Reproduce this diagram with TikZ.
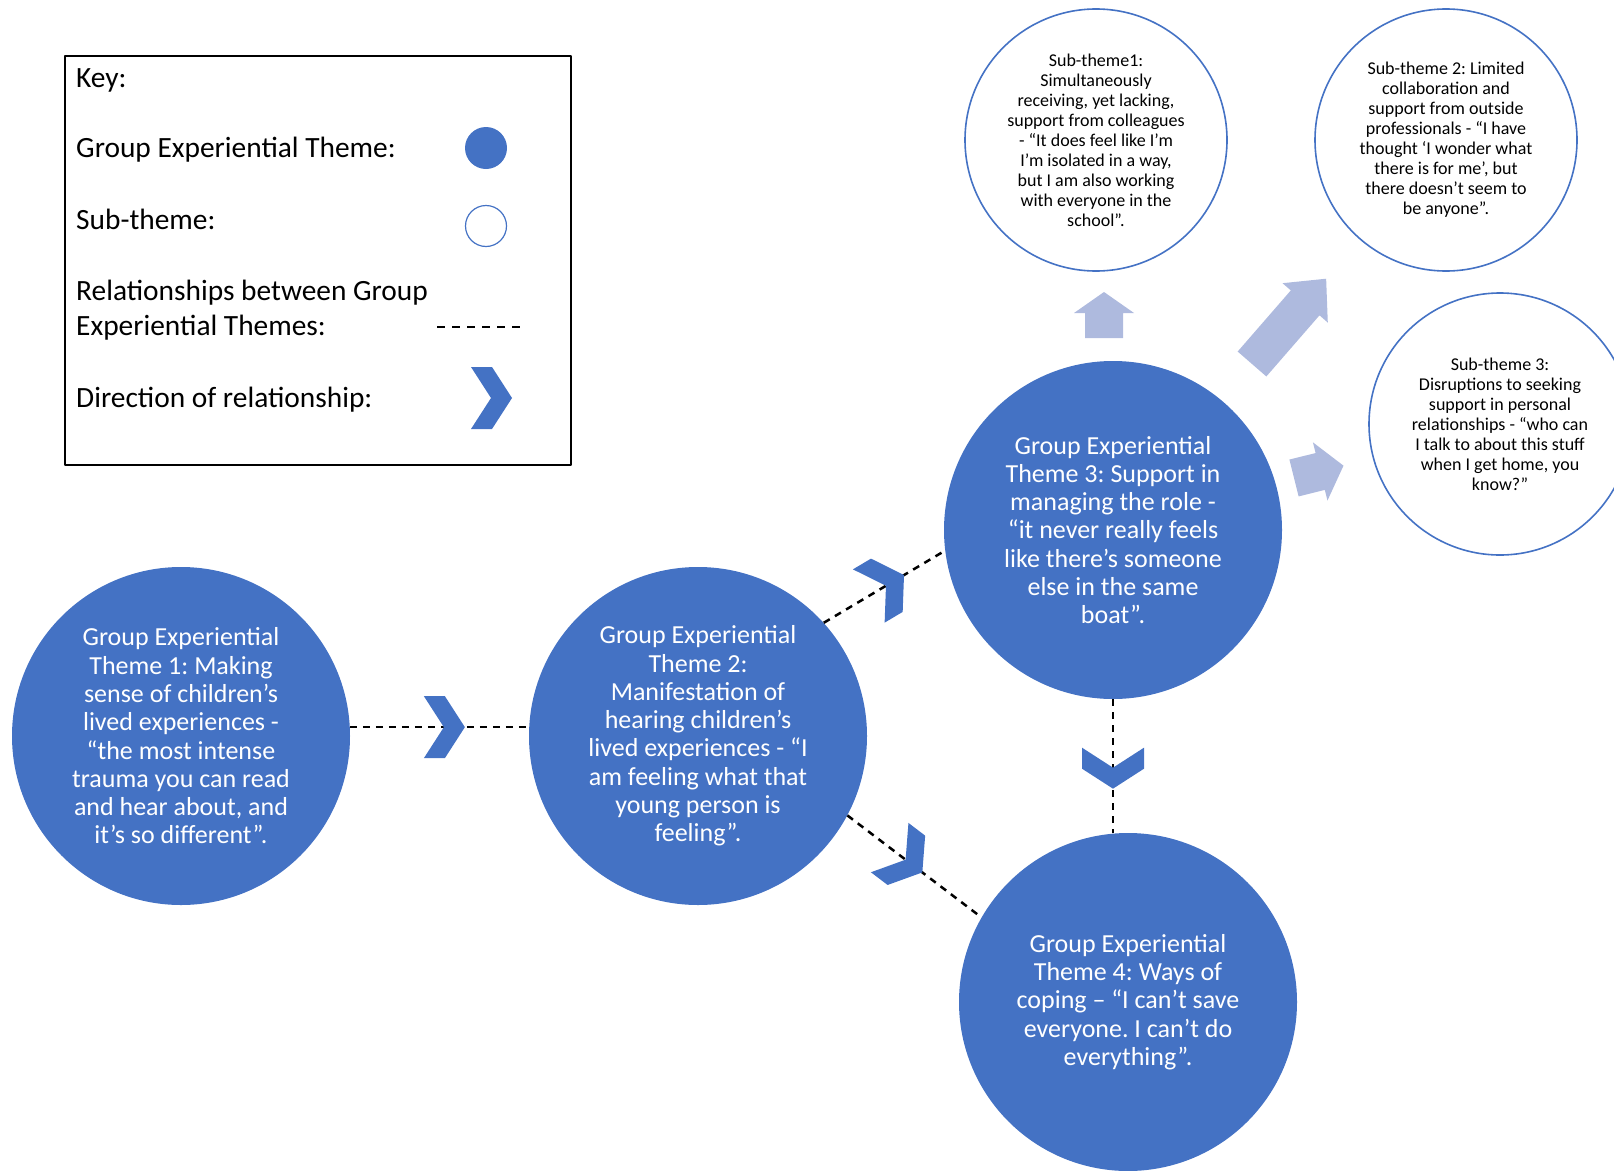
\documentclass[tikz,border=0pt]{standalone}
\usepackage{fontspec}
\setmainfont{Carlito}
\frenchspacing
\usetikzlibrary{decorations.markings}
\definecolor{getblue}{RGB}{68,114,196}
\definecolor{liteblue}{RGB}{174,186,222}
\newcommand\getsize{\fontsize{26}{28.3}\selectfont}
\newcommand\subsize{\fontsize{18}{20}\selectfont}
\newcommand\keysize{\fontsize{29.4}{35}\selectfont}
\tikzset{
  chev/.pic={\fill[getblue] (20,0)--(0,31)--(-21,31)--(-1,0)--(-21,-31)--(0,-31)--cycle;},
  pics/fatarrow/.style args={#1/#2}{code={
    \fill[liteblue] (0,-19)--(#1-#2,-19)--(#1-#2,-30)--(#1,0)--(#1-#2,30)--(#1-#2,19)--(0,19)--cycle;}}
}
\begin{document}
\begin{tikzpicture}[x=1pt, y=-1pt, line join=round,
  theme/.style={circle, fill=getblue, text=white, minimum size=338pt, inner sep=0pt, align=center, font=\getsize},
  subtheme/.style={circle, draw=getblue, line width=1.6pt, minimum size=262pt, inner sep=0pt, align=center, font=\subsize},
  keytext/.style={anchor=base west, inner sep=0pt, font=\keysize},
  rel/.style={line width=2.5pt, dash pattern=on 7pt off 6pt},
  dirmark/.style={postaction={decorate, decoration={markings, mark=at position #1 with {\pic[transform shape]{chev};}}}}]
	\useasboundingbox (0,0) rectangle (1614,1170);
	% key
	\draw[line width=1.5pt] (65,56) rectangle (571,465);
	\node[keytext] (keyttl) at (76,87) {Key:};
	\node[keytext] (keyget) at (76,157) {Group Experiential Theme:};
	\node[keytext] (keysub) at (76,229) {Sub-theme:};
	\node[keytext] (keyrela) at (76,300) {Relationships between Group};
	\node[keytext] (keyrelb) at (76,335) {Experiential Themes:};
	\node[keytext] (keydir) at (76,407) {Direction of relationship:};
	\node[circle, fill=getblue, minimum size=42pt, inner sep=0pt] (keydot) at (486,148) {};
	\node[circle, draw=getblue, line width=1.2pt, minimum size=41pt, inner sep=0pt] (keyring) at (486,226) {};
	\draw[line width=2pt, dash pattern=on 8pt off 7pt] (437,327) -- (523,327);
	\pic at (492,398) {chev};
	% group experiential themes
	\node[theme] (g1) at (181,736) {Group Experiential\\Theme 1: Making\\sense of children’s\\lived experiences -\\“the most intense\\trauma you can read\\and hear about, and\\it’s so different”.};
	\node[theme] (g2) at (698,736) {Group Experiential\\Theme 2:\\Manifestation of\\hearing children’s\\lived experiences - “I\\am feeling what that\\young person is\\feeling”.};
	\node[theme] (g3) at (1113,530) {Group Experiential\\Theme 3: Support in\\managing the role -\\“it never really feels\\like there’s someone\\else in the same\\boat”.};
	\node[theme] (g4) at (1128,1002) {Group Experiential\\Theme 4: Ways of\\coping – “I can’t save\\everyone. I can’t do\\everything”.};
	% sub-themes
	\node[subtheme] (s1) at (1096,140) {Sub-theme1:\\Simultaneously\\receiving, yet lacking,\\support from colleagues\\- “It does feel like I’m\\I’m isolated in a way,\\but I am also working\\with everyone in the\\school”.};
	\node[subtheme] (s2) at (1446,140) {Sub-theme 2: Limited\\collaboration and\\support from outside\\professionals - “I have\\thought ‘I wonder what\\there is for me’, but\\there doesn’t seem to\\be anyone”.};
	\node[subtheme] (s3) at (1500,424) {Sub-theme 3:\\Disruptions to seeking\\support in personal\\relationships - “who can\\I talk to about this stuff\\when I get home, you\\know?”};
	% relationships
	\draw[rel, dirmark=.53] (g1.3) -- (g2.177);
	\draw[rel, dirmark=.52] (g2.42) -- (g3.187);
	\draw[rel, dirmark=.44] (g2.-28) -- (g4.150);
	\draw[rel, dirmark=.52] (g3.south) -- (g3.south |- g4.north);
	% arrows to sub-themes
	\pic[rotate=90] at (1104,338) {fatarrow=46/21};
	\pic[rotate=49] at (1252,364) {fatarrow=113/32};
	\pic[rotate=14] at (1294,478) {fatarrow=51/24};
\end{tikzpicture}
\end{document}
